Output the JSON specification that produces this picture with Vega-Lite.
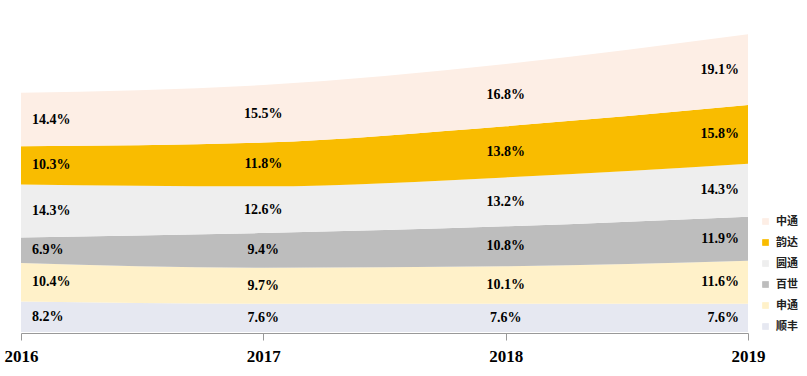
{
  "$schema": "https://vega.github.io/schema/vega-lite/v6.json",
  "width": 727,
  "height": 330,
  "autosize": "none",
  "padding": {"left": 21, "top": 2, "right": 59, "bottom": 44},
  "background": "white",
  "config": {"view": {"stroke": null}},
  "data": {
    "values": [
      {"year": "2016", "company": "顺丰", "share": 8.2},
      {"year": "2016", "company": "申通", "share": 10.4},
      {"year": "2016", "company": "百世", "share": 6.9},
      {"year": "2016", "company": "圆通", "share": 14.3},
      {"year": "2016", "company": "韵达", "share": 10.3},
      {"year": "2016", "company": "中通", "share": 14.4},
      {"year": "2017", "company": "顺丰", "share": 7.6},
      {"year": "2017", "company": "申通", "share": 9.7},
      {"year": "2017", "company": "百世", "share": 9.4},
      {"year": "2017", "company": "圆通", "share": 12.6},
      {"year": "2017", "company": "韵达", "share": 11.8},
      {"year": "2017", "company": "中通", "share": 15.5},
      {"year": "2018", "company": "顺丰", "share": 7.6},
      {"year": "2018", "company": "申通", "share": 10.1},
      {"year": "2018", "company": "百世", "share": 10.8},
      {"year": "2018", "company": "圆通", "share": 13.2},
      {"year": "2018", "company": "韵达", "share": 13.8},
      {"year": "2018", "company": "中通", "share": 16.8},
      {"year": "2019", "company": "顺丰", "share": 7.6},
      {"year": "2019", "company": "申通", "share": 11.6},
      {"year": "2019", "company": "百世", "share": 11.9},
      {"year": "2019", "company": "圆通", "share": 14.3},
      {"year": "2019", "company": "韵达", "share": 15.8},
      {"year": "2019", "company": "中通", "share": 19.1}
    ]
  },
  "transform": [
    {"calculate": "indexof(['顺丰','申通','百世','圆通','韵达','中通'], datum.company)", "as": "ord"},
    {"stack": "share", "groupby": ["year"], "sort": [{"field": "ord", "order": "ascending"}], "as": ["y0", "y1"]},
    {"calculate": "(datum.y0 + datum.y1) / 2", "as": "mid"},
    {"calculate": "format(datum.share, '.1f') + '%'", "as": "lbl"}
  ],
  "encoding": {
    "x": {
      "field": "year",
      "type": "ordinal",
      "scale": {"type": "point", "padding": 0},
      "axis": {
        "title": null,
        "labelAngle": 0,
        "labelFont": "Liberation Serif",
        "labelFontWeight": "bold",
        "labelFontSize": 17,
        "labelColor": "#000000",
        "labelPadding": 8,
        "domainColor": "#999999",
        "tickColor": "#999999",
        "tickSize": 7,
        "grid": false,
        "offset": 1
      }
    }
  },
  "layer": [
    {
      "mark": {"type": "area", "interpolate": "monotone"},
      "encoding": {
        "y": {"field": "y1", "type": "quantitative", "scale": {"domain": [0, 89], "nice": false}, "axis": null},
        "y2": {"field": "y0"},
        "color": {
          "field": "company",
          "type": "nominal",
          "scale": {
            "domain": ["中通", "韵达", "圆通", "百世", "申通", "顺丰"],
            "range": ["#FDEEE5", "#F9BC00", "#EEEEEE", "#BDBDBD", "#FFF1C9", "#E6E8F1"]
          },
          "legend": {
            "title": null,
            "orient": "none",
            "legendX": 739,
            "legendY": 214,
            "padding": 0,
            "symbolType": "square",
            "symbolSize": 45,
            "symbolStrokeWidth": 0,
            "labelFont": "Noto Sans CJK SC",
            "labelFontSize": 11,
            "labelFontWeight": "bold",
            "labelColor": "#222222",
            "labelOffset": 5,
            "rowPadding": 9
          }
        }
      }
    },
    {
      "transform": [{"filter": "datum.year == '2016'"}],
      "mark": {"type": "text", "align": "left", "dx": 11, "font": "Liberation Serif", "fontWeight": "bold", "fontSize": 14, "color": "#000000"},
      "encoding": {
        "y": {"field": "mid", "type": "quantitative", "scale": {"domain": [0, 89], "nice": false}},
        "text": {"field": "lbl"}
      }
    },
    {
      "transform": [{"filter": "datum.year == '2017' || datum.year == '2018'"}],
      "mark": {"type": "text", "align": "center", "font": "Liberation Serif", "fontWeight": "bold", "fontSize": 14, "color": "#000000"},
      "encoding": {
        "y": {"field": "mid", "type": "quantitative", "scale": {"domain": [0, 89], "nice": false}},
        "text": {"field": "lbl"}
      }
    },
    {
      "transform": [{"filter": "datum.year == '2019'"}],
      "mark": {"type": "text", "align": "right", "dx": -9, "font": "Liberation Serif", "fontWeight": "bold", "fontSize": 14, "color": "#000000"},
      "encoding": {
        "y": {"field": "mid", "type": "quantitative", "scale": {"domain": [0, 89], "nice": false}},
        "text": {"field": "lbl"}
      }
    }
  ]
}
